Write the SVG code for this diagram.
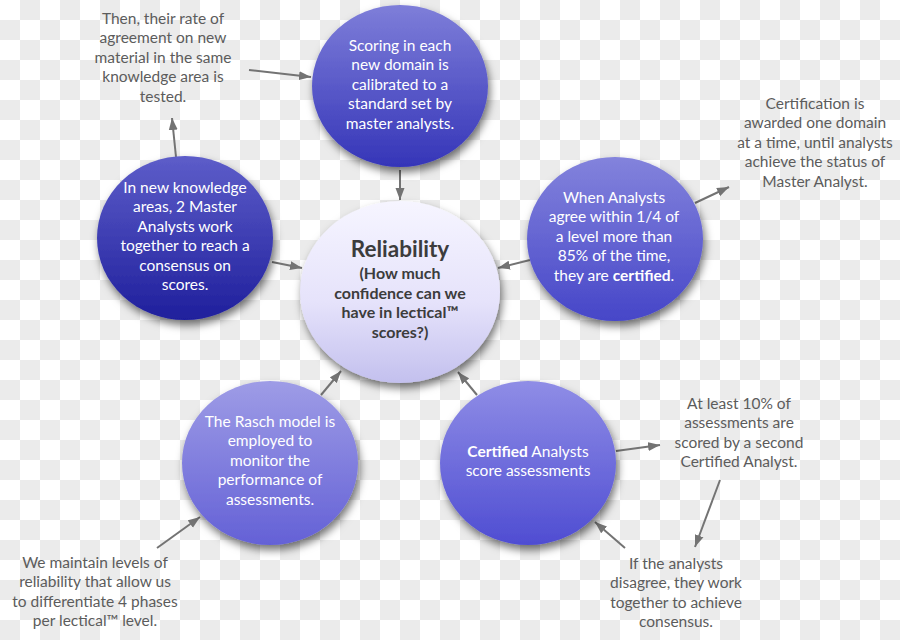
<svg xmlns="http://www.w3.org/2000/svg" width="900" height="640" viewBox="0 0 900 640">
<defs>
<pattern id="checker" x="0" y="0" width="40" height="40" patternUnits="userSpaceOnUse">
<rect width="40" height="40" fill="#ffffff"/>
<rect x="20" y="0" width="20" height="20" fill="#ebebeb"/>
<rect x="0" y="20" width="20" height="20" fill="#ebebeb"/>
</pattern>
<filter id="shadow" x="-20%" y="-20%" width="150%" height="150%">
<feDropShadow dx="2" dy="5" stdDeviation="4" flood-color="#000" flood-opacity="0.55"/>
</filter>
<linearGradient id="gCenter" x1="0" y1="0" x2="0" y2="1">
<stop offset="0" stop-color="#f6f5ff"/>
<stop offset="0.55" stop-color="#e6e3fb"/>
<stop offset="1" stop-color="#c3c0ee"/>
</linearGradient>
<linearGradient id="gTop" x1="0" y1="0" x2="0" y2="1">
<stop offset="0" stop-color="#7e7ed9"/>
<stop offset="1" stop-color="#3535b8"/>
</linearGradient>
<linearGradient id="gLeft" x1="0" y1="0" x2="0" y2="1">
<stop offset="0" stop-color="#5d5dc9"/>
<stop offset="1" stop-color="#1f1f9c"/>
</linearGradient>
<linearGradient id="gRight" x1="0" y1="0" x2="0" y2="1">
<stop offset="0" stop-color="#8383dc"/>
<stop offset="1" stop-color="#4646c8"/>
</linearGradient>
<linearGradient id="gRasch" x1="0" y1="0" x2="0" y2="1">
<stop offset="0" stop-color="#9e9ce6"/>
<stop offset="1" stop-color="#6461d6"/>
</linearGradient>
<linearGradient id="gCert" x1="0" y1="0" x2="0" y2="1">
<stop offset="0" stop-color="#8f8de6"/>
<stop offset="1" stop-color="#4f4dd2"/>
</linearGradient>
<marker id="arrow" markerUnits="userSpaceOnUse" markerWidth="13" markerHeight="10" refX="12" refY="5" orient="auto">
<path d="M0,0.5 L12,5 L0,9.5 z" fill="#737373"/>
</marker>
<style>
text { font-family: "Lato", "Open Sans", "Liberation Sans", sans-serif; text-anchor: middle; }
.w { fill: #ffffff; font-size: 15.5px; }
.g { fill: #5c5c5c; font-size: 15.5px; }
.c { fill: #3c3c3c; font-size: 16px; font-weight: bold; }
.t { fill: #3c3c3c; font-size: 22.5px; font-weight: bold; }
.b { font-weight: bold; }
.conn line { stroke: #737373; stroke-width: 2; marker-end: url(#arrow); }
</style>
</defs>
<rect width="900" height="640" fill="url(#checker)"/>

<g id="connectors" class="conn">
<line x1="249" y1="70" x2="311" y2="77"/>
<line x1="176" y1="157" x2="172" y2="118"/>
<line x1="400" y1="170" x2="400" y2="200"/>
<line x1="272" y1="262" x2="302" y2="268"/>
<line x1="530" y1="260" x2="498" y2="268"/>
<line x1="695" y1="203" x2="729" y2="187"/>
<line x1="477" y1="395" x2="458" y2="372"/>
<line x1="321" y1="395" x2="341" y2="371"/>
<line x1="616" y1="451" x2="660" y2="445"/>
<line x1="720" y1="480" x2="695" y2="547"/>
<line x1="625" y1="548" x2="595" y2="522"/>
<line x1="157" y1="548" x2="200" y2="517"/>
</g>

<g id="node-top">
<ellipse cx="400" cy="86" rx="88" ry="81" fill="url(#gTop)" filter="url(#shadow)"/>
<text class="w" x="400" y="50.5">Scoring in each</text>
<text class="w" x="400" y="70">new domain is</text>
<text class="w" x="400" y="89.5">calibrated to a</text>
<text class="w" x="400" y="109">standard set by</text>
<text class="w" x="400" y="128.5">master analysts.</text>
</g>

<g id="node-left">
<ellipse cx="185" cy="238" rx="88" ry="82" fill="url(#gLeft)" filter="url(#shadow)"/>
<text class="w" x="185" y="192.5">In new knowledge</text>
<text class="w" x="185" y="212">areas, 2 Master</text>
<text class="w" x="185" y="231.5">Analysts work</text>
<text class="w" x="185" y="251">together to reach a</text>
<text class="w" x="185" y="270.5">consensus on</text>
<text class="w" x="185" y="290">scores.</text>
</g>

<g id="node-right">
<ellipse cx="615" cy="239" rx="88" ry="82" fill="url(#gRight)" filter="url(#shadow)"/>
<text class="w" x="614" y="202.5">When Analysts</text>
<text class="w" x="614" y="222">agree within 1/4 of</text>
<text class="w" x="614" y="241.5">a level more than</text>
<text class="w" x="614" y="261">85% of the time,</text>
<text class="w" x="614" y="280.5">they are <tspan class="b">certified</tspan>.</text>
</g>

<g id="node-rasch">
<ellipse cx="270" cy="463" rx="88" ry="82" fill="url(#gRasch)" filter="url(#shadow)"/>
<text class="w" x="270" y="426.5">The Rasch model is</text>
<text class="w" x="270" y="446">employed to</text>
<text class="w" x="270" y="465.5">monitor the</text>
<text class="w" x="270" y="485">performance of</text>
<text class="w" x="270" y="504.5">assessments.</text>
</g>

<g id="node-certified">
<ellipse cx="528" cy="463" rx="88" ry="82" fill="url(#gCert)" filter="url(#shadow)"/>
<text class="w" x="528" y="456.5"><tspan class="b">Certified</tspan> Analysts</text>
<text class="w" x="528" y="476">score assessments</text>
</g>

<g id="node-center">
<ellipse cx="400" cy="292" rx="100" ry="91" fill="url(#gCenter)" filter="url(#shadow)"/>
<text class="t" x="400" y="257">Reliability</text>
<text class="c" x="400" y="279">(How much</text>
<text class="c" x="400" y="298.5">confidence can we</text>
<text class="c" x="400" y="318">have in lectical™</text>
<text class="c" x="400" y="337.5">scores?)</text>
</g>

<g id="note-tested">
<text class="g" x="163" y="23.5">Then, their rate of</text>
<text class="g" x="163" y="43">agreement on new</text>
<text class="g" x="163" y="62.5">material in the same</text>
<text class="g" x="163" y="82">knowledge area is</text>
<text class="g" x="163" y="101.5">tested.</text>
</g>

<g id="note-certification">
<text class="g" x="815" y="108.5">Certification is</text>
<text class="g" x="815" y="128">awarded one domain</text>
<text class="g" x="815" y="147.5">at a time, until analysts</text>
<text class="g" x="815" y="167">achieve the status of</text>
<text class="g" x="815" y="186.5">Master Analyst.</text>
</g>

<g id="note-second">
<text class="g" x="739" y="408.5">At least 10% of</text>
<text class="g" x="739" y="428">assessments are</text>
<text class="g" x="739" y="447.5">scored by a second</text>
<text class="g" x="739" y="467">Certified Analyst.</text>
</g>

<g id="note-disagree">
<text class="g" x="676" y="568.5">If the analysts</text>
<text class="g" x="676" y="588">disagree, they work</text>
<text class="g" x="676" y="607.5">together to achieve</text>
<text class="g" x="676" y="627">consensus.</text>
</g>

<g id="note-levels">
<text class="g" x="95" y="567.5">We maintain levels of</text>
<text class="g" x="95" y="587">reliability that allow us</text>
<text class="g" x="95" y="606.5">to differentiate 4 phases</text>
<text class="g" x="95" y="626">per lectical™ level.</text>
</g>
</svg>
